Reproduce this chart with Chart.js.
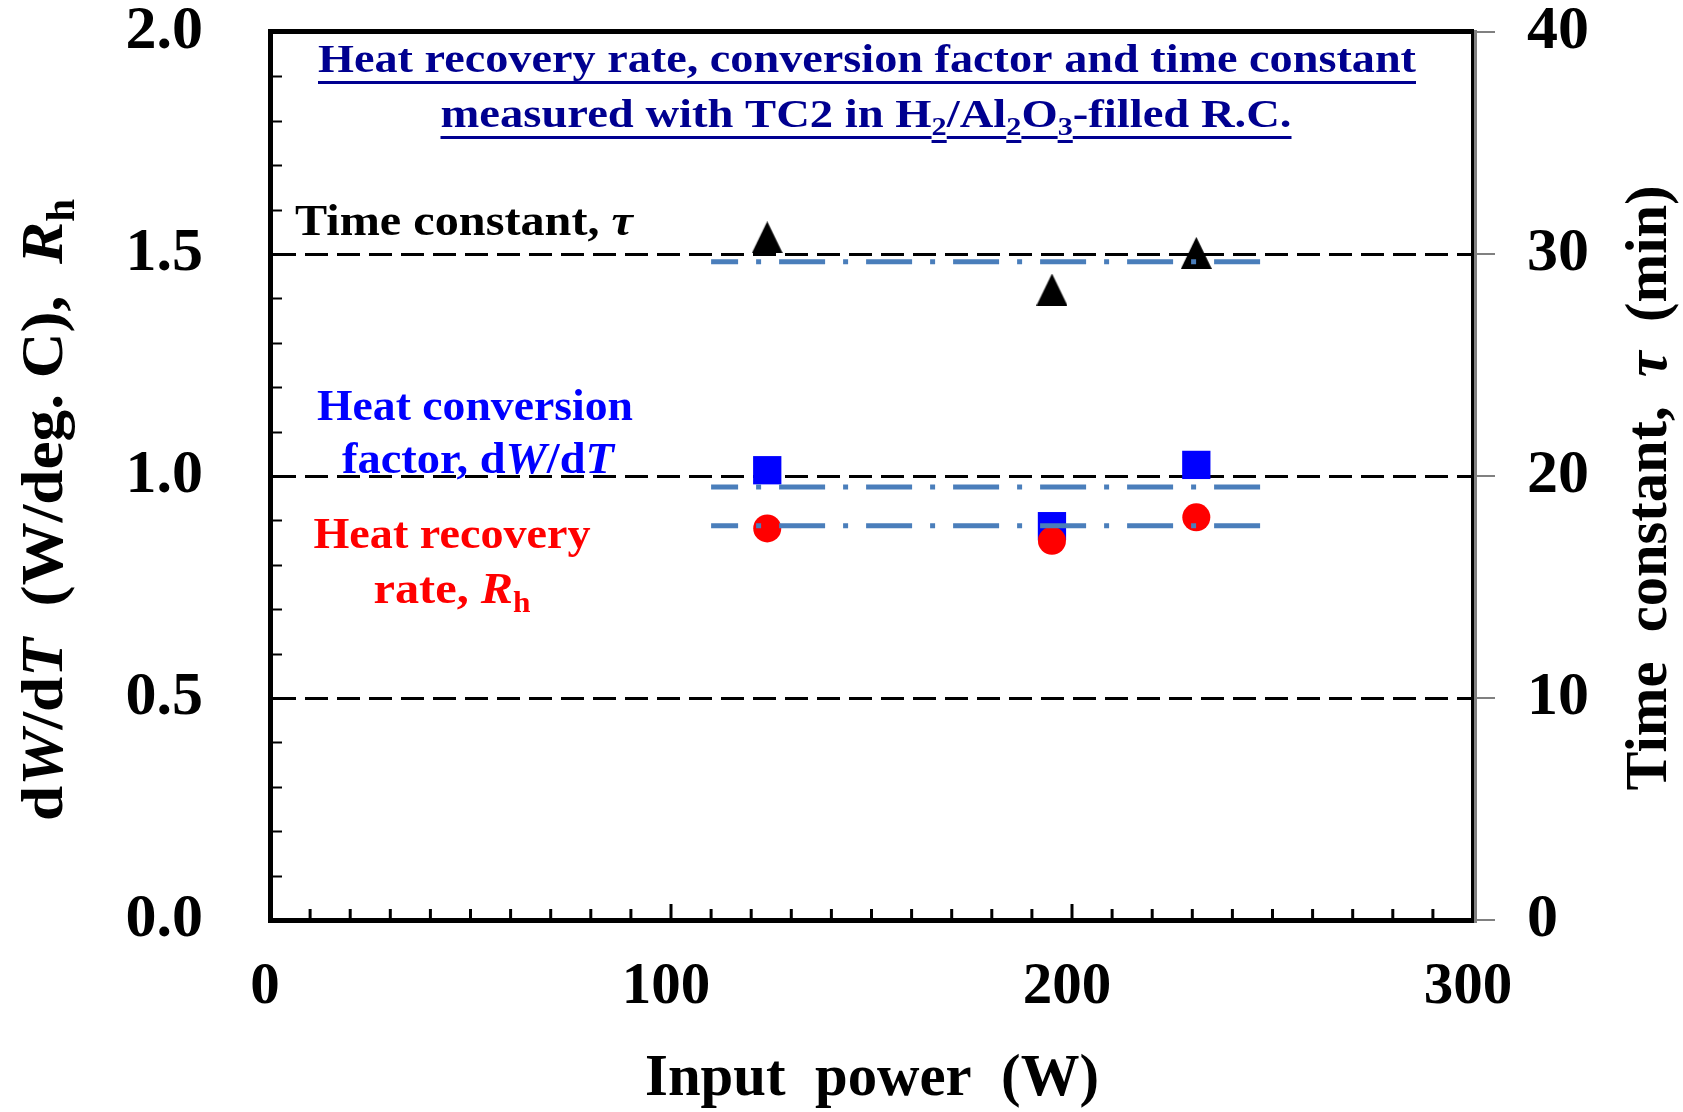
<!DOCTYPE html>
<html lang="en">
<head>
<meta charset="UTF-8">
<title>Heat recovery rate, conversion factor and time constant</title>
<script src="https://cdn.jsdelivr.net/npm/chart.js@4"></script>
<style>
  body { margin: 0; background: #fff; }
  canvas { display: block; }
</style>
</head>
<body>
<canvas id="chart" width="1683" height="1112"></canvas>
<script>
// values
var powerW = [124, 195, 231];              // input power (W)
var timeConstant = [30.75, 28.4, 30.05];   // tau (min), right axis
var conversionFactor = [1.013, 0.887, 1.025]; // dW/dT (W/deg. C)
var recoveryRate = [0.882, 0.854, 0.907];  // Rh
var meanSpanW = [110, 247];                // extent of the mean lines
var timeConstantMean = [29.65, 29.65];
var conversionMean = [0.975, 0.975];
var recoveryMean = [0.888, 0.888];
var xTicks = [0, 100, 200, 300];
var leftTicks = [0, 0.5, 1.0, 1.5, 2.0];
var rightTicks = [0, 10, 20, 30, 40];

var SERIF = "'Liberation Serif', 'Times New Roman', serif";

function pts(xs, ys) {
    return xs.map(function (x, i) { return { x: x, y: ys[i] }; });
}

// tall black triangle marker
var tri = document.createElement('canvas');
tri.width = 31; tri.height = 32;
(function () {
    var c = tri.getContext('2d');
    c.fillStyle = '#000';
    c.beginPath();
    c.moveTo(15.5, 0); c.lineTo(31, 32); c.lineTo(0, 32);
    c.closePath(); c.fill();
})();

function fontFor(kind, size) {
    var s = kind.indexOf('s') === 0 ? size * 0.65 : size;
    return (kind.indexOf('i') >= 0 ? 'italic ' : '') + 'bold ' + s + 'px ' + SERIF;
}

// draws mixed bold / italic / subscript text centered on (cx, base)
function drawRich(ctx, segs, cx, base, size, color, opt) {
    opt = opt || {};
    var widths = [], total = 0;
    segs.forEach(function (s) {
        ctx.font = fontFor(s[1], size);
        var w = ctx.measureText(s[0]).width;
        widths.push(w); total += w;
    });
    var sx = opt.width ? opt.width / total : 1;
    ctx.save();
    ctx.translate(cx, base);
    if (opt.rotate) ctx.rotate(-Math.PI / 2);
    ctx.scale(sx, 1);
    ctx.fillStyle = color;
    ctx.textAlign = 'left';
    ctx.textBaseline = 'alphabetic';
    var x = -total / 2;
    segs.forEach(function (s, i) {
        var sub = s[1].indexOf('s') === 0;
        var dy = sub ? size * 0.2 : 0;
        ctx.font = fontFor(s[1], size);
        ctx.fillText(s[0], x, dy);
        if (opt.underline) {
            ctx.fillRect(x, dy + (sub ? 5 : 9), widths[i], 3);
        }
        x += widths[i];
    });
    ctx.restore();
}

var framePlugin = {
    id: 'frame',
    beforeDatasetsDraw: function (chart) {
        var ctx = chart.ctx, a = chart.chartArea, yr = chart.scales.y2;
        ctx.save();
        ctx.strokeStyle = '#000';
        ctx.lineWidth = 3;
        ctx.setLineDash([23, 9]);
        rightTicks.forEach(function (v) {
            if (v === 0 || v === 40) return;
            var y = Math.round(yr.getPixelForValue(v)) + 0.5;
            ctx.beginPath();
            ctx.moveTo(a.left + 3, y);
            ctx.lineTo(a.right - 1, y);
            ctx.stroke();
        });
        ctx.restore();
    },
    afterDatasetsDraw: function (chart) {
        var ctx = chart.ctx, a = chart.chartArea;
        var xs = chart.scales.x, yl = chart.scales.y, yr = chart.scales.y2;
        ctx.save();
        ctx.strokeStyle = '#000';
        // minor ticks, pointing inward
        ctx.lineWidth = 3;
        for (var w = 10; w < 300; w += 10) {
            var px = xs.getPixelForValue(w);
            var len = (w % 100 === 0) ? 16 : 11;
            ctx.beginPath();
            ctx.moveTo(px, a.bottom);
            ctx.lineTo(px, a.bottom - len);
            ctx.stroke();
        }
        ctx.lineWidth = 2;
        for (var k = 1; k < 20; k++) {
            var py = Math.round(yl.getPixelForValue(k / 10)) + 0.5;
            ctx.beginPath();
            ctx.moveTo(a.left, py);
            ctx.lineTo(a.left + 12, py);
            ctx.stroke();
        }
        // frame
        ctx.lineWidth = 5;
        ctx.beginPath();
        ctx.moveTo(a.left - 2, a.top - 0.5);
        ctx.lineTo(a.right, a.top - 0.5);
        ctx.moveTo(a.left + 0.5, a.top - 3);
        ctx.lineTo(a.left + 0.5, a.bottom + 3);
        ctx.moveTo(a.left - 2, a.bottom + 0.5);
        ctx.lineTo(a.right + 1, a.bottom + 0.5);
        ctx.stroke();
        ctx.lineWidth = 3;
        ctx.beginPath();
        ctx.moveTo(a.right - 0.5, a.top - 3);
        ctx.lineTo(a.right - 0.5, a.bottom + 3);
        ctx.stroke();
        // right axis (grey) with outward ticks
        ctx.strokeStyle = '#808080';
        ctx.beginPath();
        ctx.moveTo(a.right + 2.5, a.top - 2);
        ctx.lineTo(a.right + 2.5, a.bottom + 3);
        ctx.stroke();
        ctx.lineWidth = 2;
        rightTicks.forEach(function (v) {
            var y = Math.round(yr.getPixelForValue(v));
            ctx.beginPath();
            ctx.moveTo(a.right + 4, y);
            ctx.lineTo(a.right + 22, y);
            ctx.stroke();
        });
        ctx.restore();
    },
    afterDraw: function (chart) {
        var ctx = chart.ctx;
        var navy = '#000090';
        drawRich(ctx, [['Heat recovery rate, conversion factor and time constant', 'b']],
            867, 72, 40, navy, { width: 1098, underline: true });
        drawRich(ctx, [['measured with TC2 in H', 'b'], ['2', 'sb'], ['/Al', 'b'], ['2', 'sb'],
            ['O', 'b'], ['3', 'sb'], ['-filled R.C.', 'b']],
            866, 127, 40, navy, { width: 851, underline: true });

        drawRich(ctx, [['Time constant, ', 'b'], ['\u03c4', 'bi']], 464, 235, 45, '#000', { width: 338 });
        drawRich(ctx, [['Heat conversion', 'b']], 475, 420, 45, '#0000ff', { width: 316 });
        drawRich(ctx, [['factor, d', 'b'], ['W', 'bi'], ['/d', 'b'], ['T', 'bi']], 478, 473, 45, '#0000ff', { width: 272 });
        drawRich(ctx, [['Heat recovery', 'b']], 452, 548, 45, '#ff0000', { width: 277 });
        drawRich(ctx, [['rate, ', 'b'], ['R', 'bi'], ['h', 'sb']], 452, 603, 45, '#ff0000', { width: 157 });

        drawRich(ctx, [['Input  power  (W)', 'b']], 872, 1095, 59, '#000', { width: 454 });
        drawRich(ctx, [['d', 'b'], ['W', 'bi'], ['/d', 'b'], ['T', 'bi'], ['  (W/deg. C),  ', 'b'], ['R', 'bi'], ['h', 'sb']],
            62, 510, 60, '#000', { width: 622, rotate: true });
        drawRich(ctx, [['Time  constant,  ', 'b'], ['\u03c4', 'bi'], ['  (min)', 'b']],
            1666, 488, 60, '#000', { width: 605, rotate: true });
    }
};

// tick marks are kept transparent; their length only places the labels
var tickFont = { family: SERIF, size: 62, weight: 'bold', lineHeight: 1 };
function hiddenGrid(len) {
    return { display: true, drawOnChartArea: false, drawTicks: true, tickLength: len,
             tickColor: 'rgba(0,0,0,0)', color: 'rgba(0,0,0,0)' };
}

new Chart(document.getElementById('chart'), {
    data: {
        datasets: [
            {
                type: 'line', data: pts(meanSpanW, timeConstantMean), yAxisID: 'y2', order: 0,
                borderColor: '#4a7ebb', borderWidth: 5, borderDash: [46, 18, 5, 18], borderDashOffset: 19,
                pointRadius: 0, fill: false
            },
            {
                type: 'line', data: pts(meanSpanW, conversionMean), yAxisID: 'y', order: 0,
                borderColor: '#4a7ebb', borderWidth: 5, borderDash: [46, 18, 5, 18], borderDashOffset: 19,
                pointRadius: 0, fill: false
            },
            {
                type: 'line', data: pts(meanSpanW, recoveryMean), yAxisID: 'y', order: 0,
                borderColor: '#4a7ebb', borderWidth: 5, borderDash: [46, 18, 5, 18], borderDashOffset: 19,
                pointRadius: 0, fill: false
            },
            {
                type: 'scatter', data: pts(powerW, recoveryRate), yAxisID: 'y', order: 1,
                pointStyle: 'circle', pointRadius: 14, backgroundColor: '#ff0000', borderWidth: 0
            },
            {
                type: 'scatter', data: pts(powerW, conversionFactor), yAxisID: 'y', order: 2,
                pointStyle: 'rect', pointRadius: 20, backgroundColor: '#0000ff', borderWidth: 0
            },
            {
                type: 'scatter', data: pts(powerW, timeConstant), yAxisID: 'y2', order: 3,
                pointStyle: tri, pointRadius: 16, backgroundColor: '#000', borderWidth: 0
            }
        ]
    },
    options: {
        responsive: false,
        animation: false,
        devicePixelRatio: 1,
        events: [],
        layout: { padding: { top: 32, left: 0, right: 0, bottom: 0 } },
        plugins: { legend: { display: false }, tooltip: { enabled: false } },
        scales: {
            x: {
                type: 'linear', position: 'bottom', min: 0, max: 300,
                afterFit: function (s) { s.height = 192; },
                grid: { display: false, drawTicks: false },
                border: { display: false },
                afterBuildTicks: function (s) { s.ticks = xTicks.map(function (v) { return { value: v }; }); },
                ticks: {
                    font: { family: SERIF, size: 59, weight: 'bold' }, color: '#000',
                    padding: 32, labelOffset: -5, maxRotation: 0, autoSkip: false
                }
            },
            y: {
                type: 'linear', position: 'left', min: 0, max: 2,
                afterFit: function (s) { s.width = 270; },
                grid: hiddenGrid(67),
                border: { display: false },
                afterBuildTicks: function (s) { s.ticks = leftTicks.map(function (v) { return { value: v }; }); },
                ticks: {
                    font: tickFont, color: '#000', padding: 0,
                    callback: function (v) { return Number(v).toFixed(1); }
                }
            },
            y2: {
                type: 'linear', position: 'right', min: 0, max: 40,
                afterFit: function (s) { s.width = 210; },
                grid: hiddenGrid(54),
                border: { display: false },
                afterBuildTicks: function (s) { s.ticks = rightTicks.map(function (v) { return { value: v }; }); },
                ticks: { font: tickFont, color: '#000', padding: 0 }
            }
        }
    },
    plugins: [framePlugin]
});
</script>
</body>
</html>
